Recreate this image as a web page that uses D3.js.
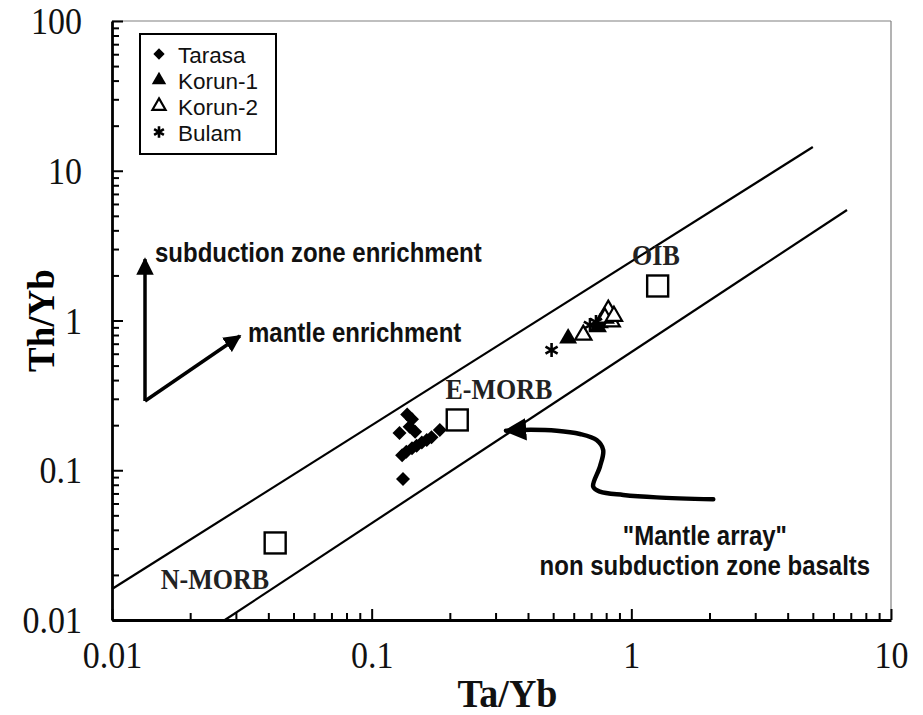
<!DOCTYPE html>
<html>
<head>
<meta charset="utf-8">
<script src="https://cdn.jsdelivr.net/npm/d3@7"></script>
<style>
  body { margin: 0; background: #fff; }
  svg { display: block; }
</style>
</head>
<body>
<div id="chart"></div>
<script>
// canvas size and plot box
const width = 923;
const height = 715;
const plot = {left: 112, right: 891, top: 21, bottom: 620};

// sample data (Ta/Yb, Th/Yb)
const tarasaTaYb = [0.137, 0.143, 0.140, 0.128, 0.147, 0.183, 0.131, 0.136, 0.143, 0.149, 0.156, 0.163, 0.170, 0.132];
const tarasaThYb = [0.236, 0.219, 0.195, 0.177, 0.181, 0.186, 0.126, 0.133, 0.140, 0.146, 0.153, 0.159, 0.166, 0.0875];
const korun1TaYb = [0.571, 0.757, 0.784, 0.744];
const korun1ThYb = [0.760, 0.962, 1.008, 0.905];
const korun2TaYb = [0.653, 0.815, 0.840, 0.791, 0.857];
const korun2ThYb = [0.800, 1.175, 0.982, 1.040, 1.070];
const bulamTaYb = [0.493, 0.693, 0.731];
const bulamThYb = [0.635, 0.933, 0.977];

// reference compositions
const refNames = ["N-MORB", "E-MORB", "OIB"];
const refTaYb = [0.0425, 0.2136, 1.263];
const refThYb = [0.0327, 0.2167, 1.70];
const refLabelTaYb = [0.0249, 0.309, 1.244];
const refLabelThYb = [0.0161, 0.30, 2.35];

// mantle array boundaries
const upperTaYb = [0.01, 5.0];
const upperThYb = [0.0161, 14.4];
const lowerTaYb = [0.0272, 6.77];
const lowerThYb = [0.01, 5.47];

// enrichment vectors
const vecOrigin = [0.0134, 0.290];
const vecSubduction = [0.0134, 2.57];
const vecMantle = [0.0311, 0.788];

// hand drawn pointer to the mantle array
const pointerTaYb = [2.068, 1.251, 0.931, 0.757, 0.713, 0.757, 0.779, 0.735, 0.634, 0.516, 0.3836];
const pointerThYb = [0.064, 0.0659, 0.0684, 0.0719, 0.0777, 0.1057, 0.1365, 0.159, 0.1746, 0.1837, 0.186];
const pointerTip = [0.329, 0.1837];

// axis ticks
const xMajor = [0.01, 0.1, 1, 10];
const yMajor = [0.01, 0.1, 1, 10, 100];

const series = [
  {name: "Tarasa", x: tarasaTaYb, y: tarasaThYb, kind: "diamond"},
  {name: "Korun-1", x: korun1TaYb, y: korun1ThYb, kind: "tri"},
  {name: "Korun-2", x: korun2TaYb, y: korun2ThYb, kind: "tri-open"},
  {name: "Bulam", x: bulamTaYb, y: bulamThYb, kind: "star"}
];

const serif = "'Liberation Serif', 'Times New Roman', serif";
const sans = "'Liberation Sans', Arial, sans-serif";
const stretch = 1.15; // the scanned figure is a bit taller than wide

const svg = d3.select("#chart")
  .append("svg")
  .attr("width", width)
  .attr("height", height);

svg.append("rect").attr("width", width).attr("height", height).attr("fill", "#fff");

const x = d3.scaleLog().domain([0.01, 10]).range([plot.left, plot.right]);
const y = d3.scaleLog().domain([0.01, 100]).range([plot.bottom, plot.top]);

function allTicks(majors) {
  const out = [];
  majors.forEach((m, i) => {
    if (i === majors.length - 1) { out.push(m); return; }
    for (let k = 1; k < 10; k++) out.push(+(m * k).toPrecision(3));
  });
  return out;
}
const isMajor = d => Math.abs(Math.log10(d) - Math.round(Math.log10(d))) < 1e-6;

// text placed at px,py and stretched vertically
function label(parent, px, py, str, opts) {
  return parent.append("text")
    .attr("transform", `translate(${px},${py}) scale(1,${opts.sy || stretch})`)
    .attr("text-anchor", opts.anchor || "start")
    .attr("font-family", opts.family || sans)
    .attr("font-weight", opts.weight || "normal")
    .attr("font-size", opts.size)
    .attr("fill", "#111")
    .text(str);
}

// top and right frame lines (thin, grey)
svg.append("line")
  .attr("x1", plot.left).attr("x2", plot.right)
  .attr("y1", plot.top).attr("y2", plot.top)
  .attr("stroke", "#808080").attr("stroke-width", 1.2);
svg.append("line")
  .attr("x1", plot.right).attr("x2", plot.right)
  .attr("y1", plot.top).attr("y2", plot.bottom)
  .attr("stroke", "#808080").attr("stroke-width", 1.2);

// bottom axis
const gx = svg.append("g")
  .attr("transform", `translate(0,${plot.bottom})`)
  .call(d3.axisBottom(x)
    .tickValues(allTicks(xMajor))
    .tickSize(-7)
    .tickSizeOuter(0)
    .tickFormat(d => isMajor(d) ? String(d) : ""));

// left axis
const gy = svg.append("g")
  .attr("transform", `translate(${plot.left},0)`)
  .call(d3.axisLeft(y)
    .tickValues(allTicks(yMajor))
    .tickSize(-7)
    .tickSizeOuter(0)
    .tickFormat(d => isMajor(d) ? String(d) : ""));

const tickFont = 34, tickSy = 1.1;
[gx, gy].forEach(g => {
  g.select(".domain").attr("stroke", "#000").attr("stroke-width", 2.8);
  g.selectAll(".tick line").attr("stroke", "#000").attr("stroke-width", 2);
  g.selectAll(".tick text")
    .attr("font-family", serif)
    .attr("font-size", tickFont)
    .attr("fill", "#111");
});
gx.selectAll(".tick line").filter(isMajor).attr("y2", -11);
gy.selectAll(".tick line").filter(isMajor).attr("x2", 11);
gx.selectAll(".tick text")
  .attr("y", null).attr("dy", null)
  .attr("transform", `translate(0,${21 + 0.71 * tickFont * tickSy}) scale(1,${tickSy})`);
gy.selectAll(".tick text")
  .attr("x", null).attr("dy", null)
  .attr("transform", `translate(-30,${0.34 * tickFont * tickSy}) scale(1,${tickSy})`);

// axis titles
label(svg, (plot.left + plot.right) / 2 + 6, 707, "Ta/Yb",
  {anchor: "middle", family: serif, weight: "bold", size: 38, sy: 1.08});

svg.append("text")
  .attr("transform", `translate(54,${(plot.top + plot.bottom) / 2}) rotate(-90)`)
  .attr("text-anchor", "middle")
  .attr("font-family", serif)
  .attr("font-weight", "bold")
  .attr("font-size", 37)
  .text("Th/Yb");

// mantle array boundaries
const bound = d3.line().x(d => x(d[0])).y(d => y(d[1]));
[[upperTaYb, upperThYb], [lowerTaYb, lowerThYb]].forEach(([xs, ys]) => {
  svg.append("path")
    .attr("d", bound(d3.zip(xs, ys)))
    .attr("fill", "none")
    .attr("stroke", "#000")
    .attr("stroke-width", 2.2);
});

// reference squares + labels
const refs = refNames.map((n, i) => ({name: n, x: refTaYb[i], y: refThYb[i], lx: refLabelTaYb[i], ly: refLabelThYb[i]}));
svg.append("g").selectAll("rect")
  .data(refs)
  .enter()
  .append("rect")
  .attr("x", d => x(d.x) - 10.5)
  .attr("y", d => y(d.y) - 10.5)
  .attr("width", 21)
  .attr("height", 21)
  .attr("fill", "#fff")
  .attr("stroke", "#000")
  .attr("stroke-width", 2.4);

refs.forEach(d => {
  label(svg, x(d.lx), y(d.ly), d.name, {anchor: "middle", family: serif, weight: "bold", size: 26, sy: 1.1})
    .attr("fill", "#222");
});

// marker shapes
function starPath(r) {
  const a = r * Math.sin(Math.PI / 3), b = r * Math.cos(Math.PI / 3);
  return `M0,${-r}L0,${r}M${-a},${-b}L${a},${b}M${-a},${b}L${a},${-b}`;
}
function drawMarker(sel, kind, scale) {
  if (kind === "diamond") {
    sel.append("path")
      .attr("d", d3.symbol().type(d3.symbolSquare).size(98 * scale)())
      .attr("transform", "rotate(45)")
      .attr("fill", "#000");
  } else if (kind === "tri") {
    sel.append("path")
      .attr("d", d3.symbol().type(d3.symbolTriangle).size(140 * scale)())
      .attr("fill", "#000");
  } else if (kind === "tri-open") {
    sel.append("path")
      .attr("d", d3.symbol().type(d3.symbolTriangle).size(115 * scale)())
      .attr("fill", "#fff")
      .attr("stroke", "#000")
      .attr("stroke-width", 2.2);
  } else {
    sel.append("path")
      .attr("d", starPath(7 * Math.sqrt(scale)))
      .attr("fill", "none")
      .attr("stroke", "#000")
      .attr("stroke-width", 2.6);
  }
}

series.forEach(s => {
  const g = svg.append("g").selectAll("g")
    .data(d3.zip(s.x, s.y))
    .enter()
    .append("g")
    .attr("transform", d => `translate(${x(d[0])},${y(d[1])})`);
  g.each(function () { drawMarker(d3.select(this), s.kind, 1); });
});

// legend
const legend = svg.append("g").attr("transform", "translate(140,34)");
legend.append("rect")
  .attr("width", 136).attr("height", 120)
  .attr("fill", "#fff").attr("stroke", "#000").attr("stroke-width", 2);
series.forEach((s, i) => {
  const row = legend.append("g").attr("transform", `translate(19,${20 + i * 26})`);
  drawMarker(row, s.kind, 0.65);
  label(row, 19, 8.5, s.name, {size: 22.5, sy: 1.0});
});

// arrowhead marker
const defs = svg.append("defs");
defs.append("marker")
  .attr("id", "head")
  .attr("viewBox", "0 0 10 10")
  .attr("refX", 9).attr("refY", 5)
  .attr("markerWidth", 5).attr("markerHeight", 5)
  .attr("markerUnits", "strokeWidth")
  .attr("orient", "auto")
  .append("path")
  .attr("d", "M0,0L10,5L0,10z")
  .attr("fill", "#000");

// enrichment vectors
[vecSubduction, vecMantle].forEach(v => {
  svg.append("line")
    .attr("x1", x(vecOrigin[0])).attr("y1", y(vecOrigin[1]))
    .attr("x2", x(v[0])).attr("y2", y(v[1]))
    .attr("stroke", "#000")
    .attr("stroke-width", 3.5)
    .attr("marker-end", "url(#head)");
});

label(svg, x(0.01464), y(2.46), "subduction zone enrichment", {weight: "bold", size: 24});
label(svg, x(0.0334), y(0.718), "mantle enrichment", {weight: "bold", size: 24});

// curvy pointer
const curve = d3.line()
  .x(d => x(d[0])).y(d => y(d[1]))
  .curve(d3.curveCatmullRom.alpha(0.5));
svg.append("path")
  .attr("d", curve(d3.zip(pointerTaYb, pointerThYb).concat([pointerTip])))
  .attr("fill", "none")
  .attr("stroke", "#000")
  .attr("stroke-width", 4.5)
  .attr("stroke-linecap", "round")
  .attr("marker-end", "url(#head)");

label(svg, x(1.92), y(0.0317), "\"Mantle array\"", {anchor: "middle", weight: "bold", size: 24});
label(svg, x(1.92), y(0.020), "non subduction zone basalts", {anchor: "middle", weight: "bold", size: 24});
</script>
</body>
</html>
